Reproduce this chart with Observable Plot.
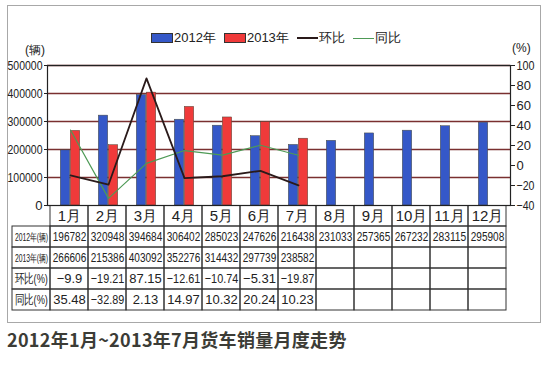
<!DOCTYPE html>
<html><head><meta charset="utf-8">
<script src="https://cdn.jsdelivr.net/npm/d3@7"></script>
<script src="https://cdn.jsdelivr.net/npm/@observablehq/plot@0.6"></script>
<style>
body{margin:0;background:#fff;}
#wrap{position:relative;width:550px;height:367px;overflow:hidden;font-family:"Liberation Sans",Arial,sans-serif;color:#222;}
#box{position:absolute;left:7px;top:5px;width:532px;height:316px;border:1px solid #a8a8a8;background:#fff;}
.layer{position:absolute;left:0;}
.layer svg{background:transparent !important;}
#legend{position:absolute;top:29px;left:151px;font-size:13px;display:flex;align-items:center;white-space:nowrap;}
#legend span.sw{display:inline-block;width:20px;height:8px;border:1px solid #333;margin-right:1px;}
#legend span.ln{display:inline-block;width:21px;height:0;margin-right:1px;}
#legend .it{display:flex;align-items:center;margin-right:8px;}
.unit{position:absolute;font-size:12px;line-height:13px;}
#title{position:absolute;left:7px;top:326px;font:bold 18px "Noto Sans CJK SC",sans-serif;color:#3c3c36;letter-spacing:0.3px;}
</style>
</head><body>
<div id="wrap">
  <div id="box"></div>
  <div id="legend">
    <div class="it"><span class="sw" style="background:#3558c8"></span>2012年</div>
    <div class="it"><span class="sw" style="background:#f03a3a"></span>2013年</div>
    <div class="it"><span class="ln" style="border-top:2px solid #2a1a1a"></span>环比</div>
    <div class="it"><span class="ln" style="border-top:1.5px solid #4e9a56"></span>同比</div>
  </div>
  <div class="unit" style="left:25px;top:44px;">(辆)</div>
  <div class="unit" style="left:512px;top:42px;">(%)</div>
  <div class="layer" id="table" style="top:205px"></div>
  <div class="layer" id="bars" style="top:0"></div>
  <div class="layer" id="lines" style="top:0"></div>
  <div id="title">2012年1月~2013年7月货车销量月度走势</div>
</div>
<script>
const months = ["1月","2月","3月","4月","5月","6月","7月","8月","9月","10月","11月","12月"];
const sales2012 = [196782,320948,394684,306402,285023,247626,216438,231033,257365,267232,283115,295908];
const sales2013 = [266606,215386,403092,352276,314432,297739,238582];
const mom = [-9.9,-19.21,87.15,-12.61,-10.74,-5.31,-19.87];
const yoy = [35.48,-32.89,2.13,14.97,10.32,20.24,10.23];
const leftTicks = [0,100000,200000,300000,400000,500000];
const rightTicks = [-40,-20,0,20,40,60,80,100];
const rowLabels = ["2012年(辆)","2013年(辆)","环比(%)","同比(%)"];

const W = 550, ML = 47, MR = 40;
const bw = (W - ML - MR) / months.length;
const d12 = months.map((m,i)=>({month:m, value:sales2012[i]}));
const d13 = sales2013.map((v,i)=>({month:months[i], value:v}));
const dMom = mom.map((v,i)=>({month:months[i], value:v}));
const dYoy = yoy.map((v,i)=>({month:months[i], value:v}));
const font = "'Liberation Sans',Arial,sans-serif";

// condense texts wider than maxW by horizontal scaling about their anchor
function squeeze(svg, maxW) {
  const ns = "http://www.w3.org/2000/svg";
  Array.from(svg.querySelectorAll("text")).forEach(t => {
    const w = t.getComputedTextLength();
    if (w <= maxW) return;
    const s = maxW / w;
    const g = document.createElementNS(ns, "g");
    t.parentNode.insertBefore(g, t);
    g.appendChild(t);
    const b = g.getBBox();
    const anchor = getComputedStyle(t).textAnchor;
    const ax = anchor === "end" ? b.x + b.width : anchor === "start" ? b.x : b.x + b.width / 2;
    g.setAttribute("transform", `translate(${ax},0) scale(${s},1) translate(${-ax},0)`);
  });
}

const bars = Plot.plot({
  width: W, height: 215, marginTop: 65, marginBottom: 10, marginLeft: ML, marginRight: MR,
  style: {background:"transparent", fontFamily: font, fontSize:"13px", color:"#222"},
  x: {type:"band", domain: months, padding:0, axis:null},
  y: {domain:[0,500000], axis:null},
  marks: [
    Plot.ruleY(leftTicks.filter(d=>d>0), {stroke:"#7a3030", strokeWidth:1.4}),
    Plot.barY(d12, {x:"month", y:"value", fill:"#3558c8", stroke:"#4a4a3a", strokeWidth:0.5, insetLeft: bw/2-10, insetRight: bw/2}),
    Plot.barY(d13, {x:"month", y:"value", fill:"#f03a3a", stroke:"#4a4a3a", strokeWidth:0.5, insetLeft: bw/2, insetRight: bw/2-10}),
    Plot.axisY({ticks: leftTicks, tickSize:3, tickPadding:2, tickFormat: d=>String(d), fontSize:13, label:null}),
    Plot.frame({stroke:"#222", strokeWidth:1.2})
  ]
});
document.getElementById("bars").append(bars);

const fmt = d => d < 0 ? "\u2212" + String(-d) : String(d);
const lines = Plot.plot({
  width: W, height: 215, marginTop: 65, marginBottom: 10, marginLeft: ML, marginRight: MR,
  style: {background:"transparent", fontFamily: font, fontSize:"13px", color:"#222"},
  x: {type:"band", domain: months, padding:0, axis:null},
  y: {domain:[-40,100], axis:null},
  marks: [
    Plot.lineY(dYoy, {x:"month", y:"value", stroke:"#4e9a56", strokeWidth:1.2}),
    Plot.lineY(dMom, {x:"month", y:"value", stroke:"#2a1a1a", strokeWidth:1.8}),
    Plot.axisY({anchor:"right", ticks: rightTicks, tickSize:4, tickPadding:2, tickFormat: fmt, fontSize:13, label:null})
  ]
});
document.getElementById("lines").append(lines);

// table
const cols = ["", ...months];
const rows = ["h", ...rowLabels];
const cells = [];
const texts = [];
cols.forEach((c,ci)=>rows.forEach(r=>{ if(!(ci===0 && r==="h")) cells.push({col:c,row:r}); }));
months.forEach(m=>texts.push({col:m,row:"h",t:m,k:"h"}));
rowLabels.forEach(r=>texts.push({col:"",row:r,t:r,k:r.startsWith("20")?"s":"l"}));
sales2012.forEach((v,i)=>texts.push({col:months[i],row:rowLabels[0],t:String(v),k:"d"}));
sales2013.forEach((v,i)=>texts.push({col:months[i],row:rowLabels[1],t:String(v),k:"d"}));
mom.forEach((v,i)=>texts.push({col:months[i],row:rowLabels[2],t:fmt(v),k:"d"}));
yoy.forEach((v,i)=>texts.push({col:months[i],row:rowLabels[3],t:fmt(v),k:"d"}));

const table = Plot.plot({
  width: W, height: 107, marginTop: 0, marginBottom: 2, marginLeft: 8, marginRight: MR,
  style: {background:"transparent", fontFamily: font, color:"#222"},
  x: {type:"band", domain: cols, padding:0, axis:null},
  y: {type:"band", domain: rows, padding:0, axis:null},
  marks: [
    Plot.cell(cells, {x:"col", y:"row", fill:"none", stroke:"#333", strokeWidth:1}),
    Plot.text(texts.filter(d=>d.k==="h"), {x:"col", y:"row", text:"t", fontSize:15, fill:"#222"}),
    Plot.text(texts.filter(d=>d.k==="d"), {x:"col", y:"row", text:"t", fontSize:13, fill:"#222"}),
    Plot.text(texts.filter(d=>d.k==="s"), {x:"col", y:"row", text:"t", fontSize:11, fill:"#222"}),
    Plot.text(texts.filter(d=>d.k==="l"), {x:"col", y:"row", text:"t", fontSize:12.5, fill:"#222"})
  ]
});
document.getElementById("table").append(table);

squeeze(table, 33.5);
squeeze(bars, 35);
squeeze(lines, 18);
</script>
</body></html>
